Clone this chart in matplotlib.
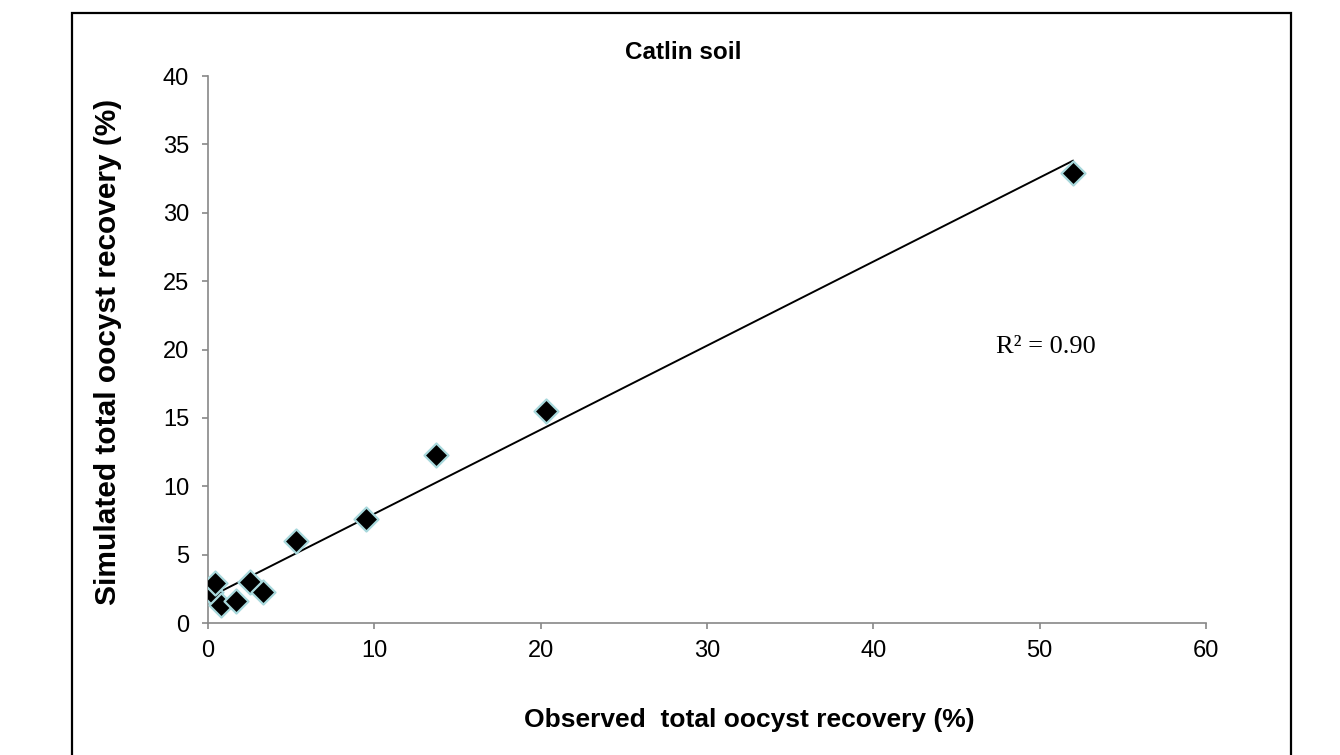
import numpy as np
import matplotlib.pyplot as plt
from matplotlib.patches import Rectangle

plt.rcParams['font.family'] = ['Liberation Sans', 'DejaVu Sans']

observed = np.array([0.2, 0.4, 0.8, 1.7, 2.5, 3.3, 5.3, 9.5, 13.7, 20.3, 52.0])
simulated = np.array([2.3, 2.9, 1.3, 1.6, 3.0, 2.3, 6.0, 7.6, 12.3, 15.5, 32.9])
r2_text = "R² = 0.90"

fig = plt.figure(figsize=(13.4, 7.55), dpi=100)
ax = fig.add_axes([0.1552, 0.1748, 0.7448, 0.7245])

# outer chart border
fig.patches.append(Rectangle((0.0537, -0.05), 0.9097, 1.0328, transform=fig.transFigure,
                             fill=False, edgecolor='black', linewidth=1.6))

m, b = np.polyfit(observed, simulated, 1)
xs = np.array([observed.min(), observed.max()])
ax.plot(xs, m * xs + b, color='black', linewidth=1.4, zorder=2)
ax.scatter(observed, simulated, marker='D', s=150, c='black',
           edgecolors='#a8d8dc', linewidths=1.6, zorder=3)

ax.set_xlim(0, 60)
ax.set_ylim(0, 40)
ax.set_xticks(range(0, 61, 10))
ax.set_yticks(range(0, 41, 5))
for s in ['top', 'right']:
    ax.spines[s].set_visible(False)
for s in ['left', 'bottom']:
    ax.spines[s].set_color('#888888')
    ax.spines[s].set_linewidth(1.2)
ax.tick_params(colors='#888888', labelcolor='black', labelsize=17, length=4.5, width=1.2)
ax.tick_params(axis='y', pad=9)
ax.tick_params(axis='x', pad=8)

fig.text(0.5097, 0.931, "Catlin soil", fontsize=17.5, fontweight='bold', ha='center', va='center')
fig.text(0.559, 0.0464, "Observed  total oocyst recovery (%)", fontsize=19, fontweight='bold',
         ha='center', va='center')
fig.text(0.0805, 0.534, "Simulated total oocyst recovery (%)", fontsize=21.5, fontweight='bold',
         ha='center', va='center', rotation=90)
ax.text(50.4, 20.2, r2_text, fontsize=19, family=['Liberation Serif', 'DejaVu Serif'],
        ha='center', va='center')

fig.savefig('out.png', dpi=100)
